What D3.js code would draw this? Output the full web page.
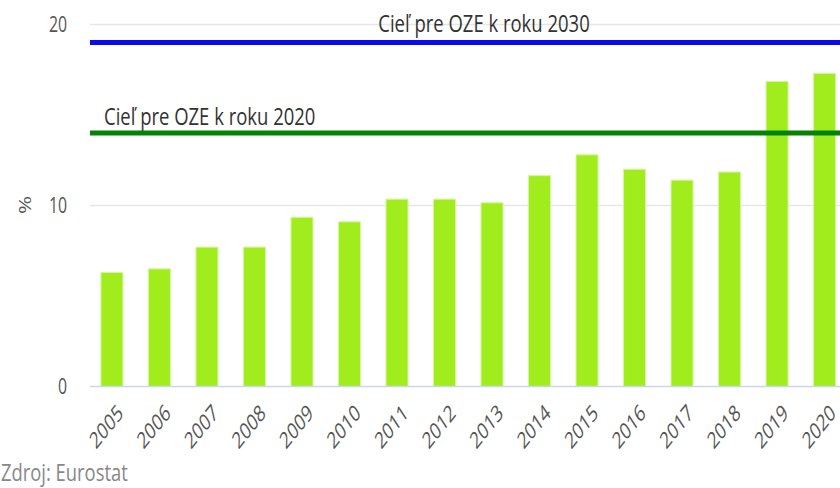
<!DOCTYPE html>
<html>
<head>
<meta charset="utf-8">
<script src="https://cdn.jsdelivr.net/npm/d3@7"></script>
<style>
  html, body { margin: 0; padding: 0; background: #fff; }
  svg { display: block; font-family: "Open Sans", sans-serif; }
</style>
</head>
<body>
<svg id="chart" width="840" height="488"></svg>
<script>
// Podiel energie z obnoviteľných zdrojov (OZE), %
const years = ["2005","2006","2007","2008","2009","2010","2011","2012",
               "2013","2014","2015","2016","2017","2018","2019","2020"];
const shares = [6.3, 6.5, 7.7, 7.7, 9.35, 9.1, 10.35, 10.35,
                10.15, 11.65, 12.8, 12.0, 11.4, 11.85, 16.85, 17.3];
const yTicks = [0, 10, 20];
const targets = [
  { label: "Cieľ pre OZE k roku 2030", value: 19, color: "#0a0af0" },
  { label: "Cieľ pre OZE k roku 2020", value: 14, color: "#058205" }
];
const source = "Zdroj: Eurostat";

const svg = d3.select("#chart");
const W = 840, H = 488;
const SX = 0.72; // horizontal squeeze applied to all text

const x = d3.scaleBand()
  .domain(years)
  .range([90, 846.5])
  .paddingInner(0.537)
  .paddingOuter(0.23);

const y = d3.scaleLinear().domain([0, 20]).range([386.5, 24.5]);

// gridlines
svg.append("g").selectAll("line")
  .data(yTicks.filter(d => d > 0))
  .join("line")
  .attr("x1", 90).attr("x2", W)
  .attr("y1", d => y(d)).attr("y2", d => y(d))
  .attr("stroke", "#e6e6e6").attr("stroke-width", 1.5);

// helper for squeezed text
function label(parent, txt, px, py, opts) {
  const g = parent.append("g")
    .attr("transform", `translate(${px},${py}) scale(${opts.sx || SX},1)` + (opts.rotate ? ` rotate(${opts.rotate})` : ""));
  g.append("text")
    .text(txt)
    .attr("text-anchor", opts.anchor || "start")
    .attr("dominant-baseline", opts.baseline || "auto")
    .attr("font-size", opts.size)
    .attr("fill", opts.fill || "#555");
  return g;
}

// y tick labels
yTicks.forEach(t => label(svg, String(t), 67, y(t) + 7, { anchor: "end", size: 22 }));

// y axis title
label(svg, "%", 31, 205, { anchor: "middle", size: 22, rotate: -90 });

// bars
svg.append("g").selectAll("rect")
  .data(years.map((yr, i) => ({ yr, v: shares[i] })))
  .join("rect")
  .attr("x", d => x(d.yr))
  .attr("width", x.bandwidth())
  .attr("y", d => y(d.v))
  .attr("height", d => y(0) - y(d.v))
  .attr("fill", "#a0ec1c")
  .attr("stroke", "#d4f89a")
  .attr("stroke-width", 1);

// x axis line
svg.append("line")
  .attr("x1", 90).attr("x2", W)
  .attr("y1", y(0)).attr("y2", y(0))
  .attr("stroke", "#ccd6eb").attr("stroke-width", 1.5);

// x tick labels (rotated)
years.forEach(yr => {
  label(svg, yr, x(yr) + x.bandwidth() / 2 + 3, y(0) + 14,
        { anchor: "end", size: 23, rotate: -42, baseline: "hanging" });
});

// target lines
targets.forEach(t => {
  svg.append("line")
    .attr("x1", 90).attr("x2", W)
    .attr("y1", y(t.value)).attr("y2", y(t.value))
    .attr("stroke", t.color).attr("stroke-width", 5);
});
label(svg, targets[0].label, 484, y(targets[0].value) - 11, { anchor: "middle", size: 24, sx: 0.77, fill: "#333" });
label(svg, targets[1].label, 104, y(targets[1].value) - 8, { anchor: "start", size: 24, sx: 0.77, fill: "#333" });

// source note
label(svg, source, 1, 481, { anchor: "start", size: 23, sx: 0.8, fill: "#888" });
</script>
</body>
</html>
